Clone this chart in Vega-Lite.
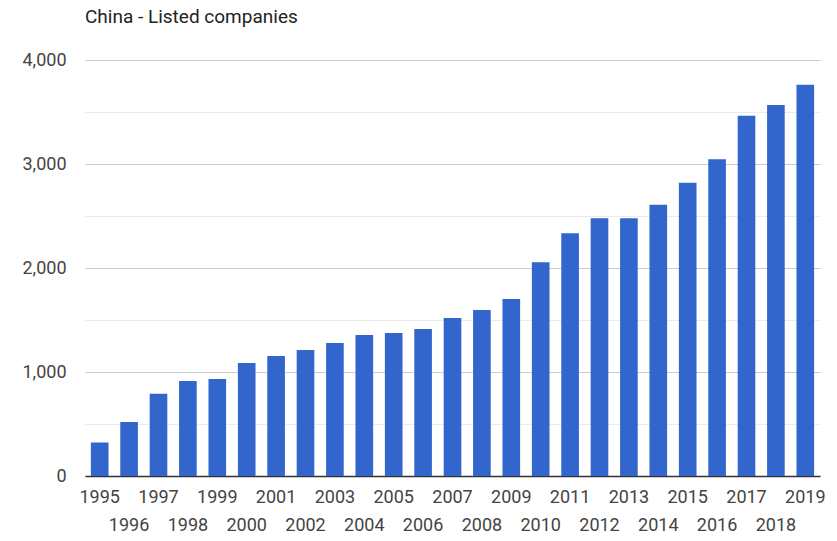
{
  "$schema": "https://vega.github.io/schema/vega-lite/v6.json",
  "autosize": "none",
  "width": 735,
  "height": 416,
  "padding": {"left": 85, "top": 60, "right": 17, "bottom": 65},
  "background": "white",
  "title": {
    "text": "China - Listed companies",
    "anchor": "start",
    "frame": "group",
    "font": "Roboto",
    "fontSize": 19,
    "fontWeight": "normal",
    "color": "#222222",
    "offset": 24
  },
  "data": {
    "values": [
      {"year": "1995", "companies": 323},
      {"year": "1996", "companies": 520},
      {"year": "1997", "companies": 790},
      {"year": "1998", "companies": 913},
      {"year": "1999", "companies": 933},
      {"year": "2000", "companies": 1087},
      {"year": "2001", "companies": 1154},
      {"year": "2002", "companies": 1212},
      {"year": "2003", "companies": 1279},
      {"year": "2004", "companies": 1356},
      {"year": "2005", "companies": 1375},
      {"year": "2006", "companies": 1413},
      {"year": "2007", "companies": 1519},
      {"year": "2008", "companies": 1596},
      {"year": "2009", "companies": 1702},
      {"year": "2010", "companies": 2055},
      {"year": "2011", "companies": 2334},
      {"year": "2012", "companies": 2478},
      {"year": "2013", "companies": 2478},
      {"year": "2014", "companies": 2609},
      {"year": "2015", "companies": 2820},
      {"year": "2016", "companies": 3045},
      {"year": "2017", "companies": 3465},
      {"year": "2018", "companies": 3567},
      {"year": "2019", "companies": 3762}
    ]
  },
  "mark": {"type": "bar", "color": "#3366cc"},
  "encoding": {
    "x": {
      "field": "year",
      "type": "ordinal",
      "scale": {"paddingInner": 0.4, "paddingOuter": 0.2},
      "axis": {
        "title": null,
        "labelAngle": 0,
        "ticks": false,
        "domain": true,
        "domainColor": "#333333",
        "domainWidth": 1.5,
        "labelFont": "Roboto",
        "labelFontSize": 18,
        "labelColor": "#444444",
        "labelBaseline": "top",
        "labelPadding": 12,
        "labelLineHeight": 28,
        "labelOverlap": false,
        "labelExpr": "toNumber(datum.value) % 2 === 0 ? ['', datum.value] : datum.value"
      }
    },
    "y": {
      "field": "companies",
      "type": "quantitative",
      "scale": {"domain": [0, 4000], "nice": false},
      "axis": {
        "title": null,
        "values": [0, 500, 1000, 1500, 2000, 2500, 3000, 3500, 4000],
        "labelExpr": "datum.value % 1000 === 0 ? format(datum.value, ',') : ''",
        "ticks": false,
        "domain": false,
        "labelFont": "Roboto",
        "labelFontSize": 18,
        "labelColor": "#444444",
        "labelPadding": 19,
        "gridColor": {"condition": {"test": "datum.value % 1000 === 0", "value": "#cccccc"}, "value": "#ebebeb"},
        "gridWidth": 1.2
      }
    }
  },
  "config": {"view": {"stroke": null}}
}
